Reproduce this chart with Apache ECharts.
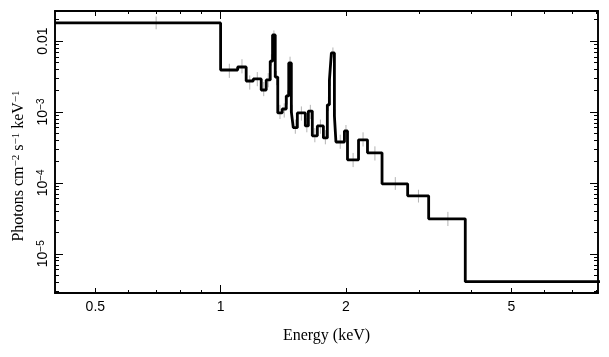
<!DOCTYPE html>
<html><head><meta charset="utf-8">
<script src="https://cdn.jsdelivr.net/npm/echarts@6/dist/echarts.min.js"></script>
<style>html,body{margin:0;padding:0;background:#fff}#c{width:609px;height:357px}</style>
</head><body><div id="c"></div><script>
// ---- data (energies in keV, flux in photons cm^-2 s^-1 keV^-1) ----
const binEdges = [0.4, 1.0, 1.099, 1.152, 1.198, 1.252, 1.287, 1.316, 1.333, 1.353, 1.372, 1.406, 1.438, 1.458, 1.479, 1.495, 1.529, 1.598, 1.625, 1.661, 1.708, 1.766, 1.805, 1.826, 1.846, 1.877, 1.893, 1.984, 2.018, 2.145, 2.254, 2.443, 2.815, 3.162, 3.872, 10.0];
const modelFlux = [0.018, 3.9e-3, 4.3e-3, 2.73e-3, 2.92e-3, 2.04e-3, 2.83e-3, 5.2e-3, 1.22e-2, 3.1e-3, 9.7e-4, 1.1e-3, 1.68e-3, 4.9e-3, 1.0e-3, 6.0e-4, 9.7e-4, 6.35e-4, 1.03e-3, 4.6e-4, 6.35e-4, 4.3e-4, 1.26e-3, 2.83e-3, 6.8e-3, 8.8e-4, 3.77e-4, 5.4e-4, 2.11e-4, 4.04e-4, 2.65e-4, 9.7e-5, 6.56e-5, 3.11e-5, 4.04e-6];
const dataFlux = [0.018, 3.8e-3, 4.4e-3, 2.6e-3, 2.9e-3, 2.1e-3, 2.8e-3, 5.4e-3, 1.2e-2, 3.0e-3, 1.0e-3, 1.05e-3, 1.6e-3, 5.0e-3, 1.0e-3, 6.2e-4, 9.5e-4, 6.5e-4, 1.0e-3, 4.7e-4, 6.2e-4, 4.4e-4, 1.3e-3, 2.8e-3, 6.9e-3, 8.6e-4, 3.8e-4, 5.2e-4, 2.1e-4, 4.1e-4, 2.6e-4, 9.8e-5, 6.5e-5, 3.1e-5, null];
const errDex = [0.09, 0.1, 0.1, 0.1, 0.1, 0.1, 0.1, 0.08, 0.07, 0.1, 0.1, 0.1, 0.1, 0.08, 0.1, 0.1, 0.1, 0.1, 0.1, 0.1, 0.1, 0.1, 0.1, 0.08, 0.07, 0.1, 0.1, 0.1, 0.1, 0.1, 0.1, 0.09, 0.09, 0.1, null];
// ---- axes ----
const xRange = [0.4, 8.07];
const yRange = [2.8e-6, 0.0265];
const xLabelTicks = [0.5, 1, 2, 5];
const xLabelText = ['0.5', '1', '2', '5'];
const xDecadeTicks = [1];
const xMidTicks = [0.5, 2, 5];
const xMinorTicks = [0.6, 0.7, 0.8, 0.9, 3, 4, 6, 7, 8];
const yDecadeTicks = [1e-2, 1e-3, 1e-4, 1e-5];
const yLabelText = ['0.01', '10{s|−3}', '10{s|−4}', '10{s|−5}'];
const yMinorMantissa = [2, 3, 4, 5, 6, 7, 8, 9];
const yMinorDecades = [1e-6, 1e-5, 1e-4, 1e-3, 1e-2];
const xTitle = 'Energy (keV)';
const yTitle = 'Photons cm{s|−2} s{s|−1} keV{s|−1}';

const L = Math.log10;
const yMinorTicks = [];
yMinorDecades.forEach(d => yMinorMantissa.forEach(m => yMinorTicks.push(m * d)));

function findLabel(v, ticks, texts) {
  for (let i = 0; i < ticks.length; i++) if (Math.abs(L(ticks[i]) - v) < 1e-6) return texts[i];
  return '';
}
const AX = {color: '#000', width: 1.6};
function xAx(pos, ticks, len, withLabels, withName) {
  const a = {
    type: 'value', position: pos, min: L(xRange[0]), max: L(xRange[1]),
    axisLine: {show: true, onZero: false, lineStyle: AX},
    splitLine: {show: false},
    axisTick: {show: true, inside: true, length: len, customValues: ticks.map(L), lineStyle: {color: '#000', width: 1}},
    axisLabel: {show: false}
  };
  if (withLabels) {
    a.axisLabel = {show: true, customValues: xLabelTicks.map(L), margin: 7,
      formatter: v => findLabel(v, xLabelTicks, xLabelText),
      fontFamily: 'Liberation Sans', fontSize: 14, color: '#000'};
  }
  if (withName) {
    a.name = xTitle; a.nameLocation = 'middle'; a.nameGap = 35;
    a.nameTextStyle = {fontFamily: 'Liberation Serif', fontSize: 16, color: '#000'};
  }
  return a;
}
function yAx(pos, ticks, len, withLabels, withName) {
  const a = {
    type: 'value', position: pos, min: L(yRange[0]), max: L(yRange[1]),
    axisLine: {show: true, onZero: false, lineStyle: AX},
    splitLine: {show: false},
    axisTick: {show: true, inside: true, length: len, customValues: ticks.map(L), lineStyle: {color: '#000', width: 1}},
    axisLabel: {show: false}
  };
  if (withLabels) {
    a.axisLabel = {show: true, customValues: yDecadeTicks.map(L), margin: 5, rotate: 90,
      formatter: v => findLabel(v, yDecadeTicks, yLabelText),
      fontFamily: 'Liberation Sans', fontSize: 14, color: '#000',
      rich: {s: {fontFamily: 'Liberation Sans', fontSize: 10, color: '#000', verticalAlign: 'top', lineHeight: 10}}};
  }
  if (withName) {
    a.name = yTitle; a.nameLocation = 'middle'; a.nameGap = 28; a.nameRotate = 90;
    a.nameTextStyle = {fontFamily: 'Liberation Serif', fontSize: 16, color: '#000', padding: [0, 28, 0, 0],
      rich: {s: {fontFamily: 'Liberation Serif', fontSize: 11, color: '#000', verticalAlign: 'top', lineHeight: 10}}};
  }
  return a;
}

const n = modelFlux.length;
const stepData = binEdges.map((e, i) => [L(e), L(modelFlux[Math.min(i, n - 1)])]);
const errData = [];
for (let i = 0; i < n; i++) {
  if (dataFlux[i] == null) continue;
  errData.push([L((binEdges[i] + binEdges[i + 1]) / 2), L(dataFlux[i]), errDex[i]]);
}

const chart = echarts.init(document.getElementById('c'), null, {renderer: 'canvas'});
chart.setOption({
  animation: false,
  backgroundColor: '#fff',
  grid: {left: 55, right: 11, top: 11, bottom: 64, containLabel: false},
  xAxis: [
    xAx('bottom', xMidTicks, 5, true, true),
    xAx('bottom', xDecadeTicks, 8, false, false),
    xAx('bottom', xMinorTicks, 3, false, false),
    xAx('top', xMidTicks, 5, false, false),
    xAx('top', xDecadeTicks, 8, false, false),
    xAx('top', xMinorTicks, 3, false, false)
  ],
  yAxis: [
    yAx('left', yDecadeTicks, 8, true, true),
    yAx('left', yMinorTicks, 4, false, false),
    yAx('right', yDecadeTicks, 8, false, false),
    yAx('right', yMinorTicks, 4, false, false)
  ],
  series: [
    {type: 'custom', xAxisIndex: 0, yAxisIndex: 0, z: 1, clip: true,
      renderItem: (params, api) => {
        const x = api.value(0), y = api.value(1), e = api.value(2);
        const p1 = api.coord([x, y + e]), p2 = api.coord([x, y - e]);
        return {type: 'line', shape: {x1: p1[0], y1: p1[1], x2: p2[0], y2: p2[1]},
          style: {stroke: '#b4b4b4', lineWidth: 1}};
      },
      data: errData},
    {type: 'line', xAxisIndex: 0, yAxisIndex: 0, z: 3, step: 'end', symbol: 'none', clip: true,
      lineStyle: {color: '#000', width: 2.8}, data: stepData}
  ]
});
</script></body></html>
